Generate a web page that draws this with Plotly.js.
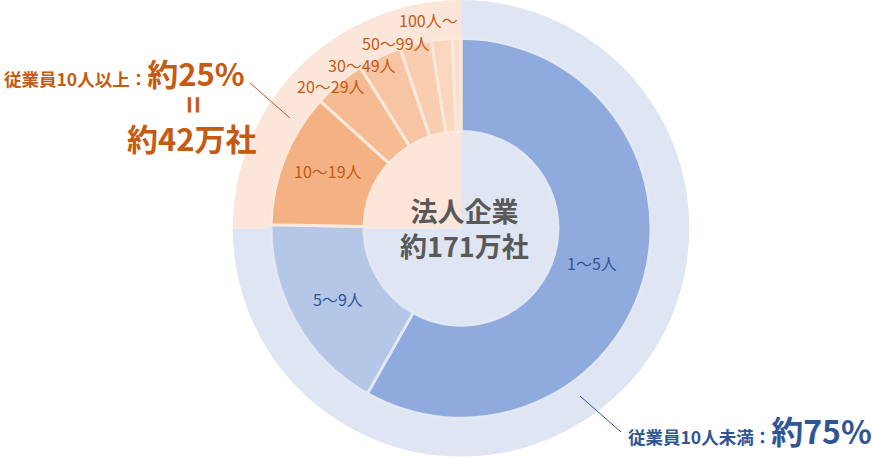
<!DOCTYPE html>
<html><head><meta charset="utf-8">
<script src="https://cdn.plot.ly/plotly-3.0.1.min.js"></script>
<style>html,body{margin:0;padding:0;background:#fff}</style>
</head><body><div id="chart" style="width:872px;height:458px"></div>
<script>
// ---- data ----
const groupLabels = ['従業員10人未満', '従業員10人以上'];
const groupShares = [75, 25];
const sizeLabels = ['1～5人', '5～9人', '10～19人', '20～29人', '30～49人', '50～99人', '100人～', ''];
const sizeShares = [58.2, 17.1, 11.4, 4.4, 3.7, 2.7, 1.75, 0.75];
const centerLines = ['法人企業', '約171万社'];
const upperNote = ['従業員10人以上：', '約25%', '約42万社'];
const lowerNote = ['従業員10人未満：', '約75%'];

// ---- style ----
const W = 872, H = 458;
const cx = 461, cy = 228.3, rOuter = 228.3, rInner = 190, holeFrac = 0.51;
const groupColors = ['#dfe5f3', '#fce6d9'];
const sizeColors = ['#8faadc', '#b4c7e7', '#f4b183', '#f5bb93', '#f7c5a3', '#f8cdb0', '#fad6be', '#fbdfcc'];
const sizeLineColors = ['#e2e7f4', '#e2e7f4', '#fde8dc', '#fde8dc', '#fde8dc', '#fde8dc', '#fde8dc', '#fde8dc'];
const labelColors = ['#2f5597', '#2f5597', '#c55a11', '#c55a11', '#c55a11', '#c55a11', '#c55a11'];
// placement rule per label: 'mid' = centered in slice, 'end' = right-anchored near slice end
const labelMode = ['mid', 'mid', 'mid', 'end', 'end', 'end', 'end'];
const labelRadius = [135, 142, 145, 171, 175, 188, 208];
const labelAngleShift = [0, 0, 1.5, -1.5, -2.4, 0, 2.4];
const FONT = '"Noto Sans CJK JP", "Noto Sans", sans-serif';
const ORANGE = '#c55a11', BLUE = '#2f5597', GRAY = '#595959';

const px2x = p => p / W, px2y = p => 1 - p / H;

const traces = [
  {
    type: 'pie', labels: groupLabels, values: groupShares, sort: false, direction: 'clockwise',
    rotation: 0, hole: 0, textinfo: 'none', hoverinfo: 'label+percent',
    marker: {colors: groupColors, line: {width: 0}},
    domain: {x: [px2x(cx - rOuter), px2x(cx + rOuter)], y: [px2y(cy + rOuter), Math.min(1, px2y(cy - rOuter))]},
    showlegend: false
  },
  {
    type: 'pie', labels: sizeLabels.map((l, i) => l || ' '), values: sizeShares, sort: false, direction: 'clockwise',
    rotation: 0, hole: holeFrac, textinfo: 'none', hoverinfo: 'label+percent',
    marker: {colors: sizeColors, line: {color: sizeLineColors, width: 3}},
    domain: {x: [px2x(cx - rInner), px2x(cx + rInner)], y: [px2y(cy + rInner), px2y(cy - rInner)]},
    showlegend: false
  }
];

function note(xp, yp, text, size, color, xa, extra) {
  return Object.assign({xref: 'paper', yref: 'paper', x: px2x(xp), y: px2y(yp), showarrow: false,
    xanchor: xa || 'center', yanchor: 'middle', text: text, font: {family: FONT, size: size, color: color}}, extra || {});
}

// slice label positions from cumulative shares
const total = sizeShares.reduce((a, b) => a + b, 0);
const annotations = [];
let cum = 0;
sizeShares.forEach((v, i) => {
  const a0 = cum / total * 360, a1 = (cum + v) / total * 360;
  cum += v;
  if (!sizeLabels[i]) return;
  const mode = labelMode[i];
  const ang = (mode === 'mid' ? (a0 + a1) / 2 : a1) + labelAngleShift[i];
  const r = labelRadius[i];
  const t = ang * Math.PI / 180;
  const x = cx + r * Math.sin(t), y = cy - r * Math.cos(t);
  annotations.push(note(x, y, sizeLabels[i], 16, labelColors[i], mode === 'mid' ? 'center' : 'right'));
});

// center (one block, two lines)
annotations.push(note(464, 228, '<b>' + centerLines[0] + '<br>' + centerLines[1] + '</b>', 27, GRAY));

// upper-left callout
annotations.push(note(247, 72, '<b>' + upperNote[0] + '<span style="font-size:31px">' + upperNote[1] + '</span></b>', 17.5, ORANGE, 'right'));
annotations.push(note(195, 105, '<b>=</b>', 30, ORANGE, 'center', {textangle: 90}));
annotations.push(note(192, 137, '<b>' + upperNote[2] + '</b>', 31, ORANGE));

// lower-right callout
annotations.push(note(626, 430, '<b>' + lowerNote[0] + '<span style="font-size:32px">' + lowerNote[1] + '</span></b>', 17.5, BLUE, 'left'));

const shapes = [
  {type: 'line', xref: 'paper', yref: 'paper', x0: px2x(250), y0: px2y(83), x1: px2x(290), y1: px2y(118),
   line: {color: ORANGE, width: 1}},
  {type: 'line', xref: 'paper', yref: 'paper', x0: px2x(580), y0: px2y(396), x1: px2x(621), y1: px2y(432),
   line: {color: BLUE, width: 1}}
];

Plotly.newPlot('chart', traces, {
  width: W, height: H, margin: {l: 0, r: 0, t: 0, b: 0},
  paper_bgcolor: '#fff', plot_bgcolor: '#fff', showlegend: false,
  annotations: annotations, shapes: shapes
}, {displayModeBar: false, staticPlot: true});
</script>
</body></html>
